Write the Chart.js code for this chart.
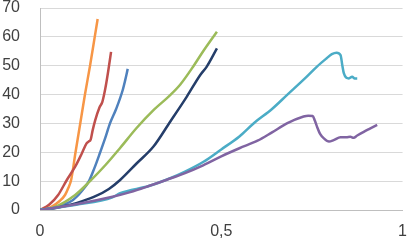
<!DOCTYPE html>
<html>
<head>
<meta charset="utf-8">
<script src="https://cdn.jsdelivr.net/npm/chart.js@4.4.1/dist/chart.umd.min.js"></script>
<style>
  html, body { margin: 0; padding: 0; background: #fff; }
  #wrap { width: 407px; height: 247px; }
</style>
</head>
<body>
<div id="wrap"><canvas id="chart" width="407" height="247"></canvas></div>
<script>
// values: [x, y]
const orangeSeries = [[0,0],[0.03,1],[0.055,3.2],[0.069,5.2],[0.078,7.6],[0.086,10.5],[0.098,20],[0.111,30],[0.124,40],[0.138,50],[0.151,60],[0.159,66.2]];
const redSeries = [[0,0],[0.025,1.8],[0.05,5.2],[0.074,10.4],[0.097,15],[0.115,19.5],[0.128,23],[0.134,23.7],[0.14,24.5],[0.145,27.5],[0.152,31],[0.164,35.5],[0.172,37.5],[0.18,42],[0.188,48],[0.196,54.8]];
const blueSeries = [[0,0],[0.04,0.8],[0.091,3.5],[0.115,6.5],[0.135,10],[0.15,14.5],[0.166,20],[0.18,25],[0.193,30],[0.21,35],[0.228,41.5],[0.235,45],[0.242,48.9]];
const greenSeries = [[0,0],[0.04,1],[0.097,5.2],[0.138,10],[0.18,15.5],[0.221,21.5],[0.267,28.5],[0.313,34.6],[0.359,39.8],[0.387,43.5],[0.424,50],[0.451,55.2],[0.488,61.8]];
const navySeries = [[0,0],[0.05,0.9],[0.1,2.4],[0.15,4.6],[0.19,7.3],[0.221,10.4],[0.267,16.2],[0.313,22],[0.359,30.6],[0.405,39.3],[0.442,46.8],[0.46,49.7],[0.488,56]];
const cyanSeries = [[0,0],[0.1,1.8],[0.2,4.4],[0.221,5.8],[0.3,8.3],[0.359,11],[0.4,13.3],[0.451,16.7],[0.5,21],[0.55,25.5],[0.589,30],[0.64,35],[0.681,39.8],[0.73,45.5],[0.764,49.7],[0.79,52.5],[0.805,54],[0.818,54.5],[0.829,53.7],[0.834,50],[0.838,47.4],[0.845,45.8],[0.852,45.6],[0.861,46.2],[0.868,45.6],[0.875,45.6]];
const purpleSeries = [[0,0],[0.1,2],[0.2,4.6],[0.249,6.2],[0.3,8.3],[0.35,10.5],[0.4,12.8],[0.45,15.5],[0.5,18.6],[0.55,21.4],[0.6,24],[0.64,26.9],[0.681,30],[0.727,32.4],[0.74,32.7],[0.752,32.6],[0.758,31],[0.764,28.9],[0.773,26.3],[0.783,24.8],[0.797,23.7],[0.81,24.2],[0.829,25.2],[0.845,25.2],[0.856,25.4],[0.865,25],[0.875,25.8],[0.893,27.1],[0.91,28.2],[0.93,29.5]];

const xTicks = [0, 0.5, 1];
const yTicks = [0, 10, 20, 30, 40, 50, 60, 70];

const SERIES = [
  { data: purpleSeries, color: '#8064A2' },
  { data: cyanSeries,   color: '#4BACC6' },
  { data: navySeries,   color: '#253E6A' },
  { data: greenSeries,  color: '#9BBB59' },
  { data: blueSeries,   color: '#4F81BD' },
  { data: redSeries,    color: '#C0504D' },
  { data: orangeSeries, color: '#F79646' }
];

const datasets = SERIES.map(s => ({
  data: s.data.map(p => ({ x: p[0], y: p[1] })),
  borderColor: s.color,
  borderWidth: 2.5,
  showLine: true,
  pointRadius: 0,
  fill: false,
  cubicInterpolationMode: 'monotone'
}));

const tickFont = { family: '"Liberation Sans", Arial, sans-serif', size: 16, lineHeight: 1 };

new Chart(document.getElementById('chart').getContext('2d'), {
  type: 'scatter',
  data: { datasets },
  options: {
    responsive: false,
    animation: false,
    layout: { padding: { top: 0, right: 0, left: 0, bottom: 0 } },
    plugins: { legend: { display: false }, tooltip: { enabled: false } },
    scales: {
      x: {
        type: 'linear', min: 0, max: 1,
        afterBuildTicks: ax => { ax.ticks = xTicks.map(v => ({ value: v })); },
        afterFit: ax => { ax.height = 37; },
        // tick marks kept invisible, only used to push the labels down
        grid: { display: true, drawOnChartArea: false, drawTicks: true, tickLength: 14, tickColor: 'rgba(0,0,0,0)' },
        border: { display: true, color: '#bfbfbf', width: 1 },
        ticks: {
          padding: 0, color: '#404040', font: tickFont, maxRotation: 0,
          callback: v => String(v).replace('.', ',')
        }
      },
      y: {
        min: 0, max: 70,
        afterBuildTicks: ax => { ax.ticks = yTicks.map(v => ({ value: v })); },
        afterFit: ax => { ax.width = 40; },
        grid: { color: '#d9d9d9', lineWidth: 1, drawTicks: true, tickLength: 20, tickColor: 'rgba(0,0,0,0)' },
        border: { display: true, color: '#bfbfbf', width: 1 },
        ticks: { padding: 0, color: '#404040', font: tickFont }
      }
    }
  }
});
</script>
</body>
</html>
